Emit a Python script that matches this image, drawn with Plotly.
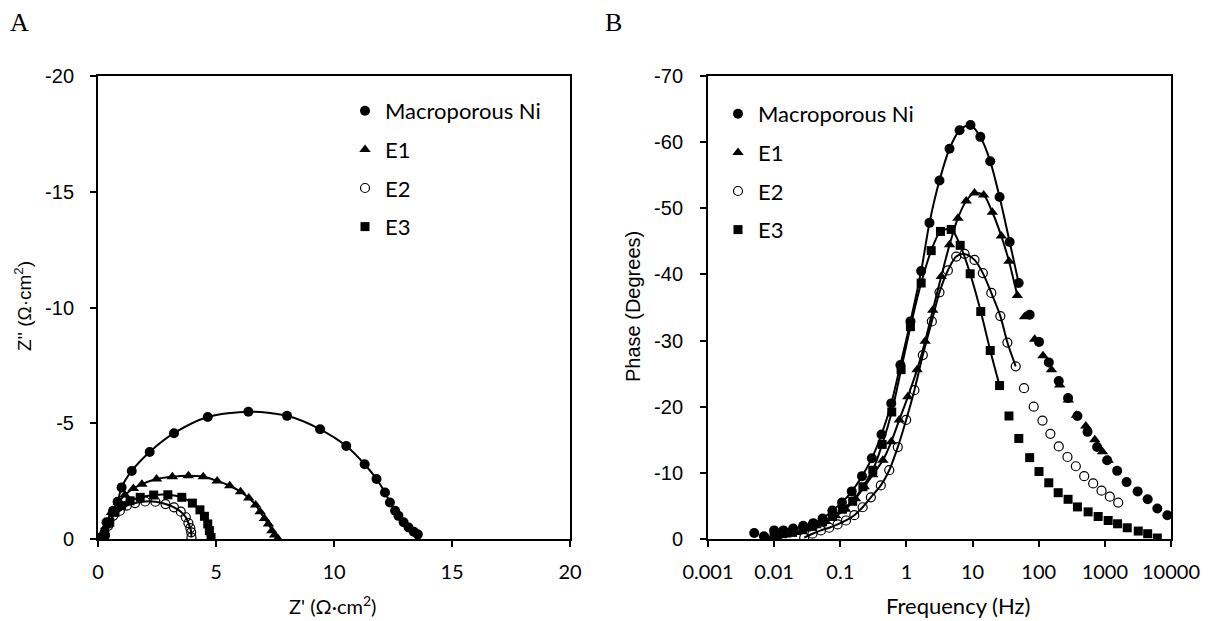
import plotly.graph_objects as go

# ---------------- Panel A : Nyquist data ----------------
macro_zr = [0.30, 0.36, 0.64, 0.83, 1.00, 1.43, 2.19, 3.22, 4.65, 6.37, 8.01, 9.41, 10.52, 11.30, 11.80, 12.16, 12.37, 12.59, 12.73, 12.95, 13.16, 13.38, 13.55]
macro_zi = [-0.15, -0.72, -1.22, -1.61, -2.23, -2.94, -3.76, -4.57, -5.27, -5.50, -5.32, -4.74, -4.02, -3.23, -2.59, -2.01, -1.58, -1.22, -1.00, -0.72, -0.50, -0.31, -0.20]

e1_zr = [0.21, 0.36, 0.57, 0.86, 1.14, 1.50, 1.86, 2.48, 3.15, 3.83, 4.46, 5.05, 5.58, 6.04, 6.39, 6.68, 6.87, 7.05, 7.22, 7.37, 7.48, 7.62]
e1_zi = [-0.22, -0.57, -1.15, -1.58, -1.90, -2.18, -2.37, -2.59, -2.69, -2.73, -2.69, -2.51, -2.30, -2.04, -1.77, -1.47, -1.18, -0.89, -0.65, -0.36, -0.17, -0.02]

e2_zr = [0.26, 0.43, 0.64, 0.93, 1.22, 1.57, 2.00, 2.43, 2.86, 3.22, 3.51, 3.72, 3.83, 3.91, 3.95, 3.96]
e2_zi = [-0.22, -0.57, -1.00, -1.22, -1.44, -1.55, -1.62, -1.61, -1.51, -1.37, -1.18, -0.94, -0.69, -0.47, -0.29, -0.07]

e3_zr = [0.18, 0.29, 0.50, 0.72, 1.00, 1.36, 1.79, 2.36, 2.96, 3.55, 4.00, 4.32, 4.51, 4.65, 4.72, 4.79]
e3_zi = [-0.07, -0.29, -0.72, -1.15, -1.44, -1.65, -1.80, -1.90, -1.91, -1.80, -1.55, -1.26, -0.98, -0.65, -0.36, -0.07]

# ---------------- Panel B : Bode phase data ----------------
macro_f = [0.005, 0.007, 0.01, 0.0138, 0.0194, 0.0275, 0.039, 0.054, 0.076, 0.106, 0.149, 0.213, 0.30, 0.42, 0.59, 0.81, 1.15, 1.67, 2.23, 3.16, 4.48, 6.36, 9.3, 13.1, 18.5, 25.6, 36.4, 49.8, 73, 101, 142, 201, 278, 385, 547, 764, 1084, 1535, 2130, 3130, 4440, 6210, 8800]
macro_ph = [-0.9, -0.4, -1.3, -1.3, -1.6, -2.0, -2.4, -3.1, -4.3, -5.5, -7.2, -9.5, -12.2, -15.8, -20.5, -26.3, -32.9, -40.5, -47.8, -54.2, -59.0, -61.8, -62.6, -60.8, -57.1, -51.7, -44.9, -38.7, -33.9, -29.8, -26.7, -23.9, -21.3, -18.6, -16.2, -13.9, -11.9, -10.3, -8.6, -7.2, -6.0, -4.6, -3.6]

e1_f = [0.008, 0.011, 0.015, 0.021, 0.03, 0.043, 0.06, 0.085, 0.12, 0.17, 0.23, 0.31, 0.44, 0.59, 0.78, 1.05, 1.45, 1.92, 2.5, 3.36, 4.49, 6.0, 8.0, 10.7, 14.7, 19.9, 27.2, 35.5, 47.5, 61, 87, 116, 156, 208, 280, 372, 515, 705, 922, 1122]
e1_ph = [-0.1, -0.3, -0.6, -1.0, -1.5, -2.0, -2.7, -3.5, -4.5, -6.1, -7.9, -9.7, -11.9, -14.7, -18.0, -21.5, -25.6, -29.9, -34.6, -39.7, -44.5, -48.5, -51.1, -52.3, -52.0, -49.4, -45.8, -42.0, -36.8, -33.6, -30.2, -27.7, -25.6, -23.3, -21.0, -18.7, -17.1, -15.0, -13.2, -11.9]

e2_f = [0.0285, 0.038, 0.051, 0.068, 0.091, 0.122, 0.163, 0.218, 0.29, 0.41, 0.55, 0.74, 0.99, 1.32, 1.77, 2.42, 3.16, 4.23, 5.66, 7.57, 10.7, 14.3, 19.2, 26.3, 33.6, 44.9, 60, 84, 114, 150, 201, 272, 364, 487, 666, 891, 1190, 1592]
e2_ph = [-0.2, -0.8, -1.3, -1.7, -2.2, -2.8, -3.6, -4.8, -6.3, -8.1, -10.4, -13.9, -18.0, -22.5, -27.8, -32.9, -37.3, -40.6, -42.7, -43.1, -42.2, -40.2, -37.2, -33.7, -29.7, -26.1, -22.8, -20.0, -17.9, -15.9, -14.0, -12.4, -11.0, -9.5, -8.4, -7.3, -6.4, -5.5]

e3_f = [0.01, 0.0135, 0.019, 0.027, 0.038, 0.054, 0.076, 0.108, 0.154, 0.22, 0.31, 0.43, 0.60, 0.83, 1.15, 1.67, 2.37, 3.27, 4.75, 6.5, 9.2, 13.3, 18.5, 25.6, 35.5, 50, 73, 101, 142, 197, 278, 385, 558, 792, 1122, 1556, 2180, 3200, 4440, 6210]
e3_ph = [-0.5, -0.8, -1.0, -1.4, -1.9, -2.6, -3.4, -4.5, -5.7, -7.9, -10.4, -14.3, -19.2, -25.6, -32.1, -38.7, -43.6, -46.5, -46.8, -44.4, -40.1, -34.4, -28.5, -23.2, -18.6, -15.2, -12.3, -10.2, -8.5, -7.0, -6.0, -4.85, -4.1, -3.4, -2.8, -2.3, -1.7, -1.2, -0.8, -0.15]

# frequency window covered by the fitted curves (Hz)
fit_fmin = [0.02, 0.03, 0.028, 0.027]
fit_fmax = [50, 48, 45, 26]

series_names = ["Macroporous Ni", "E1", "E2", "E3"]
symbols = ["circle", "triangle-up", "circle-open", "square"]

# tick values / labels
a_x_ticks = [0, 5, 10, 15, 20]
a_y_ticks = [0, -5, -10, -15, -20]
a_y_text = ["0", "-5", "-10", "-15", "-20"]
b_x_ticks = [0.001, 0.01, 0.1, 1, 10, 100, 1000, 10000]
b_x_text = ["0.001", "0.01", "0.1", "1", "10", "100", "1000", "10000"]
b_y_ticks = [0, -10, -20, -30, -40, -50, -60, -70]
b_y_text = ["0", "-10", "-20", "-30", "-40", "-50", "-60", "-70"]

# the page body adds an 8px margin at top-left; the figure fills the rest of the window
PAD = 8
W, H = 1210 - PAD, 621 - PAD
ARIAL = "Liberation Sans"
CAL = "Lato"


def X(px):
    return (px - PAD) / W


def Y(py):
    return 1 - (py - PAD) / H


fig = go.Figure()

A_data = [(macro_zr, macro_zi), (e1_zr, e1_zi), (e2_zr, e2_zi), (e3_zr, e3_zi)]
B_data = [(macro_f, macro_ph), (e1_f, e1_ph), (e2_f, e2_ph), (e3_f, e3_ph)]


def marker(sym):
    if sym == "circle-open":
        return dict(symbol=sym, size=9, color="black", line=dict(color="black", width=1.2))
    if sym == "triangle-up":
        return dict(symbol=sym, size=10, color="black")
    if sym == "square":
        return dict(symbol=sym, size=9, color="black")
    return dict(symbol=sym, size=10, color="black")


# Panel A
for i, (x, y) in enumerate(A_data):
    fig.add_trace(go.Scatter(x=x, y=y, mode="lines", line=dict(color="black", width=2, shape="spline", smoothing=0.8),
                             showlegend=False, xaxis="x", yaxis="y", hoverinfo="skip"))
for i, (x, y) in enumerate(A_data):
    fig.add_trace(go.Scatter(x=x, y=y, mode="markers", marker=marker(symbols[i]), name=series_names[i],
                             legendgroup="A%d" % i, legend="legend", xaxis="x", yaxis="y"))

# Panel B
for i, (f, p) in enumerate(B_data):
    fx = [a for a in f if fit_fmin[i] <= a <= fit_fmax[i]]
    fy = [b for a, b in zip(f, p) if fit_fmin[i] <= a <= fit_fmax[i]]
    fig.add_trace(go.Scatter(x=fx, y=fy, mode="lines", line=dict(color="black", width=2, shape="spline", smoothing=0.8),
                             showlegend=False, xaxis="x2", yaxis="y2", hoverinfo="skip"))
for i, (f, p) in enumerate(B_data):
    fig.add_trace(go.Scatter(x=f, y=p, mode="markers", marker=marker(symbols[i]), name=series_names[i],
                             legendgroup="B%d" % i, legend="legend2", xaxis="x2", yaxis="y2"))

ydom = [Y(539), Y(76)]
axcommon = dict(showgrid=False, zeroline=False, showline=True, linecolor="black", linewidth=2,
                mirror=True, ticks="outside", ticklen=6, tickwidth=1.5, tickcolor="black")

ann_common = dict(xref="paper", yref="paper", showarrow=False, xanchor="center", yanchor="middle")

fig.update_layout(
    width=W, height=H,
    margin=dict(l=0, r=0, t=0, b=0, autoexpand=False),
    paper_bgcolor="white", plot_bgcolor="white",
    xaxis=dict(domain=[X(98), X(570)], range=[0, 20], tickvals=a_x_ticks,
               tickfont=dict(family=CAL, size=20, color="black"), ticklabelstandoff=8, anchor="y", **axcommon),
    yaxis=dict(domain=ydom, range=[0, -20], tickvals=a_y_ticks, ticktext=a_y_text,
               tickfont=dict(family=ARIAL, size=20, color="black"), ticklabelstandoff=12, anchor="x", **axcommon),
    xaxis2=dict(domain=[X(708), X(1171)], type="log", range=[-3, 4], tickvals=b_x_ticks, ticktext=b_x_text,
                tickfont=dict(family=CAL, size=20, color="black"), ticklabelstandoff=8, anchor="y2", **axcommon),
    yaxis2=dict(domain=ydom, range=[0, -70], tickvals=b_y_ticks, ticktext=b_y_text,
                tickfont=dict(family=ARIAL, size=20, color="black"), ticklabelstandoff=13, anchor="x2", **axcommon),
    legend=dict(x=X(345), y=Y(90), xanchor="left", yanchor="top", bgcolor="rgba(0,0,0,0)",
                font=dict(family=CAL, size=22, color="black"), tracegroupgap=7),
    legend2=dict(x=X(718), y=Y(93), xanchor="left", yanchor="top", bgcolor="rgba(0,0,0,0)",
                 font=dict(family=CAL, size=22, color="black"), tracegroupgap=7),
    annotations=[
        dict(text="A", x=X(19), y=Y(22), font=dict(family="Liberation Serif", size=26, color="black"), **ann_common),
        dict(text="B", x=X(613), y=Y(22), font=dict(family="Liberation Serif", size=26, color="black"), **ann_common),
        dict(text="Z' (Ω·cm<sup>2</sup>)", x=X(332), y=Y(605), font=dict(family=CAL, size=20, color="black"), **ann_common),
        dict(text="Frequency (Hz)", x=X(958), y=Y(605), font=dict(family=CAL, size=22, color="black"), **ann_common),
        dict(text="Z'' (Ω·cm<sup>2</sup>)", x=X(23), y=Y(306), textangle=-90,
             font=dict(family=ARIAL, size=19, color="black"), **ann_common),
        dict(text="Phase (Degrees)", x=X(633), y=Y(307), textangle=-90,
             font=dict(family=ARIAL, size=20, color="black"), **ann_common),
    ],
)

fig.write_html("out.html")
